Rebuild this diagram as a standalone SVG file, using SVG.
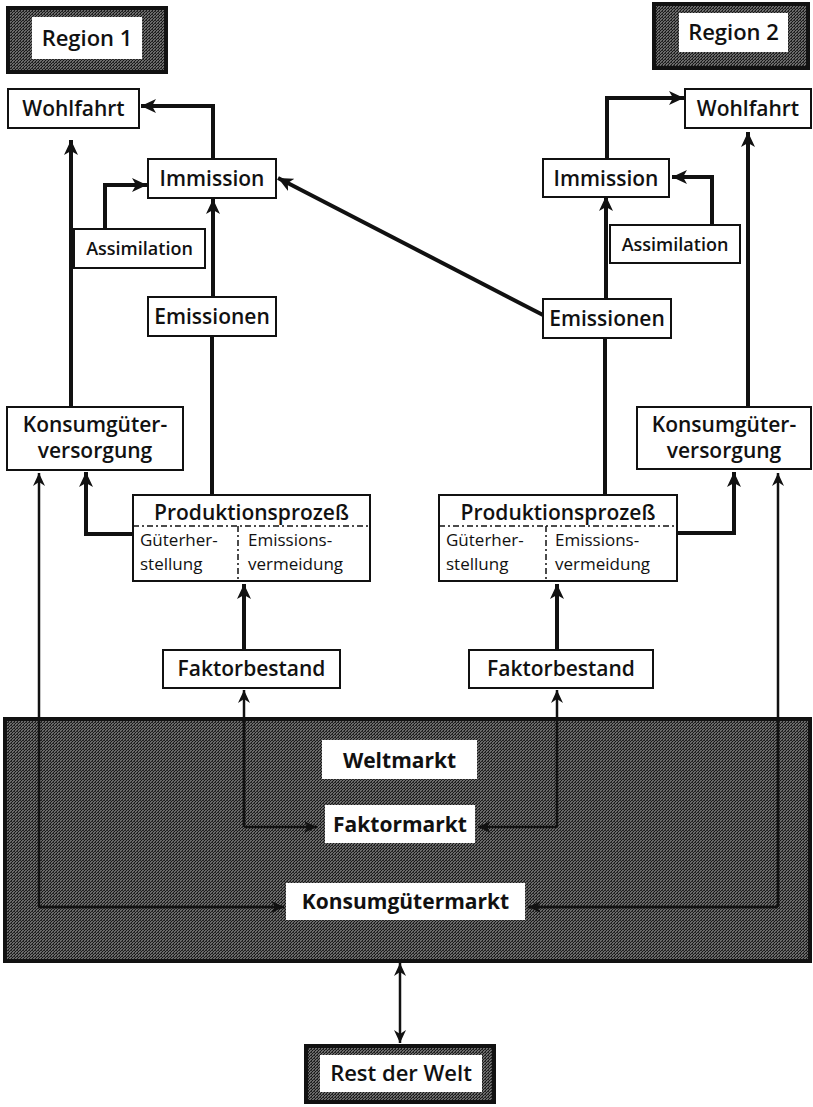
<svg xmlns="http://www.w3.org/2000/svg" width="813" height="1107" viewBox="0 0 813 1107">
<defs>
<pattern id="stip" width="3" height="3" patternUnits="userSpaceOnUse">
<rect width="3" height="3" fill="#6a6a6a"/>
<rect width="1" height="1" fill="#151515"/>
<rect x="2" y="1" width="1" height="1" fill="#1a1a1a"/>
<rect x="1" y="2" width="1" height="1" fill="#202020"/>
<rect x="2" y="2" width="1" height="1" fill="#2a2a2a"/>
</pattern>
<marker id="ah" markerWidth="16" markerHeight="14" refX="15" refY="7" orient="auto-start-reverse" markerUnits="userSpaceOnUse">
<path d="M0,0 L15,7 L0,14 L4,7 Z" fill="#111"/>
</marker>
<marker id="ahs" markerWidth="14" markerHeight="12" refX="13" refY="6" orient="auto-start-reverse" markerUnits="userSpaceOnUse">
<path d="M0,0 L13,6 L0,12 L4,6 Z" fill="#111"/>
</marker>
</defs>
<style>
.box{fill:#fff;stroke:#111;stroke-width:2}
.dark{fill:url(#stip);stroke:#111;stroke-width:4}
.wbox{fill:#fff;stroke:none}
.t{font-family:"Open Sans","Liberation Sans",sans-serif;font-size:21px;font-weight:600;fill:#111;text-anchor:middle}
.tr{font-family:"Open Sans","Liberation Sans",sans-serif;font-size:22px;font-weight:600;fill:#111;text-anchor:middle}
.tb{font-family:"Open Sans","Liberation Sans",sans-serif;font-size:21px;font-weight:700;fill:#111;text-anchor:middle}
.ts{font-family:"Open Sans","Liberation Sans",sans-serif;font-size:18px;font-weight:600;fill:#111;text-anchor:middle}
.tm{font-family:"Open Sans","Liberation Sans",sans-serif;font-size:17px;font-weight:500;fill:#111}
.c{fill:none;stroke:#111;stroke-width:4;marker-end:url(#ah)}
.cn{fill:none;stroke:#111;stroke-width:4}
.ci{fill:none;stroke:#111;stroke-width:2.5;marker-end:url(#ahs)}
.dd{fill:none;stroke:#111;stroke-width:1.5;stroke-dasharray:6,3,2,3}
</style>

<g id="weltmarkt">
<rect class="dark" x="5" y="719" width="805" height="242"/>
<rect class="wbox" x="322" y="740" width="155" height="39"/>
<text class="tb" x="399.5" y="768">Weltmarkt</text>
</g>

<g id="connectors">
<path class="c" d="M213,158 V106 H141"/>
<path class="c" d="M71,407 V140"/>
<path class="c" d="M105,229 V185 H147"/>
<path class="c" d="M213,297 V199"/>
<path class="cn" d="M212,495 V336"/>
<path class="c" d="M133,534 H86 V472"/>
<path class="c" d="M244,650 V584"/>
<path class="c" d="M607,159 V98 H684"/>
<path class="c" d="M748,407 V132"/>
<path class="c" d="M712,225 V177 H672"/>
<path class="c" d="M606,299 V196"/>
<path class="cn" d="M605,495 V338"/>
<path class="c" d="M677,533 H734 V472"/>
<path class="c" d="M557,650 V584"/>
<path class="c" d="M543,315 L278,178"/>
<path class="ci" d="M39,907 V473"/>
<path class="ci" d="M39,907 H284"/>
<path class="ci" d="M778,907 V473"/>
<path class="ci" d="M778,907 H528"/>
<path class="ci" d="M244,827 V690"/>
<path class="ci" d="M244,827 H317"/>
<path class="ci" d="M557,827 V690"/>
<path class="ci" d="M557,827 H478"/>
<path class="ci" d="M400,963 V1043" style="marker-start:url(#ahs)"/>
</g>

<g id="region1">
<rect class="dark" x="8" y="8" width="158" height="64"/>
<rect class="wbox" x="32" y="17" width="110" height="42"/>
<text class="tr" x="87" y="46">Region 1</text>
</g>
<g id="region2">
<rect class="dark" x="654" y="4" width="154" height="64"/>
<rect class="wbox" x="679" y="13" width="109" height="39"/>
<text class="tr" x="733.5" y="40">Region 2</text>
</g>

<g id="wohlfahrt1">
<rect class="box" x="8" y="89" width="131" height="39"/>
<text class="t" x="73.5" y="116">Wohlfahrt</text>
</g>
<g id="immission1">
<rect class="box" x="148" y="159" width="128" height="39"/>
<text class="t" x="212" y="186">Immission</text>
</g>
<g id="assimilation1">
<rect class="box" x="74" y="229" width="131" height="39"/>
<text class="ts" x="139.5" y="255">Assimilation</text>
</g>
<g id="emissionen1">
<rect class="box" x="148" y="297" width="128" height="39"/>
<text class="t" x="212" y="324">Emissionen</text>
</g>
<g id="konsum1">
<rect class="box" x="7" y="407" width="176" height="63"/>
<text class="t" x="95" y="432">Konsumgüter-</text>
<text class="t" x="95" y="458">versorgung</text>
</g>
<g id="produktion1">
<rect class="box" x="133" y="495" width="237" height="86"/>
<line class="dd" x1="133" y1="526" x2="370" y2="526"/>
<line class="dd" x1="238" y1="526" x2="238" y2="581"/>
<text class="t" x="251.5" y="520">Produktionsprozeß</text>
<text class="tm" x="140" y="546">Güterher-</text>
<text class="tm" x="140" y="570">stellung</text>
<text class="tm" x="248" y="546">Emissions-</text>
<text class="tm" x="248" y="570">vermeidung</text>
</g>
<g id="faktorbestand1">
<rect class="box" x="163" y="650" width="177" height="38"/>
<text class="t" x="251.5" y="676">Faktorbestand</text>
</g>

<g id="wohlfahrt2">
<rect class="box" x="685" y="89" width="126" height="39"/>
<text class="t" x="748" y="116">Wohlfahrt</text>
</g>
<g id="immission2">
<rect class="box" x="543" y="159" width="126" height="38"/>
<text class="t" x="606" y="186">Immission</text>
</g>
<g id="assimilation2">
<rect class="box" x="610" y="225" width="130" height="38"/>
<text class="ts" x="675" y="251">Assimilation</text>
</g>
<g id="emissionen2">
<rect class="box" x="543" y="299" width="128" height="39"/>
<text class="t" x="607" y="326">Emissionen</text>
</g>
<g id="konsum2">
<rect class="box" x="637" y="407" width="174" height="62"/>
<text class="t" x="724" y="432">Konsumgüter-</text>
<text class="t" x="724" y="458">versorgung</text>
</g>
<g id="produktion2">
<rect class="box" x="439" y="495" width="238" height="86"/>
<line class="dd" x1="439" y1="526" x2="677" y2="526"/>
<line class="dd" x1="546" y1="526" x2="546" y2="581"/>
<text class="t" x="558" y="520">Produktionsprozeß</text>
<text class="tm" x="446" y="546">Güterher-</text>
<text class="tm" x="446" y="570">stellung</text>
<text class="tm" x="555" y="546">Emissions-</text>
<text class="tm" x="555" y="570">vermeidung</text>
</g>
<g id="faktorbestand2">
<rect class="box" x="469" y="650" width="184" height="38"/>
<text class="t" x="561" y="676">Faktorbestand</text>
</g>

<g id="faktormarkt">
<rect class="wbox" x="325" y="805" width="150" height="38"/>
<text class="tb" x="400" y="832">Faktormarkt</text>
</g>
<g id="konsumgutermarkt">
<rect class="wbox" x="286" y="883" width="239" height="37"/>
<text class="tb" x="405.5" y="909">Konsumgütermarkt</text>
</g>

<g id="restderwelt">
<rect class="dark" x="306" y="1046" width="188" height="56"/>
<rect class="wbox" x="320" y="1055" width="162" height="37"/>
<text class="tr" x="401" y="1081">Rest der Welt</text>
</g>
</svg>
